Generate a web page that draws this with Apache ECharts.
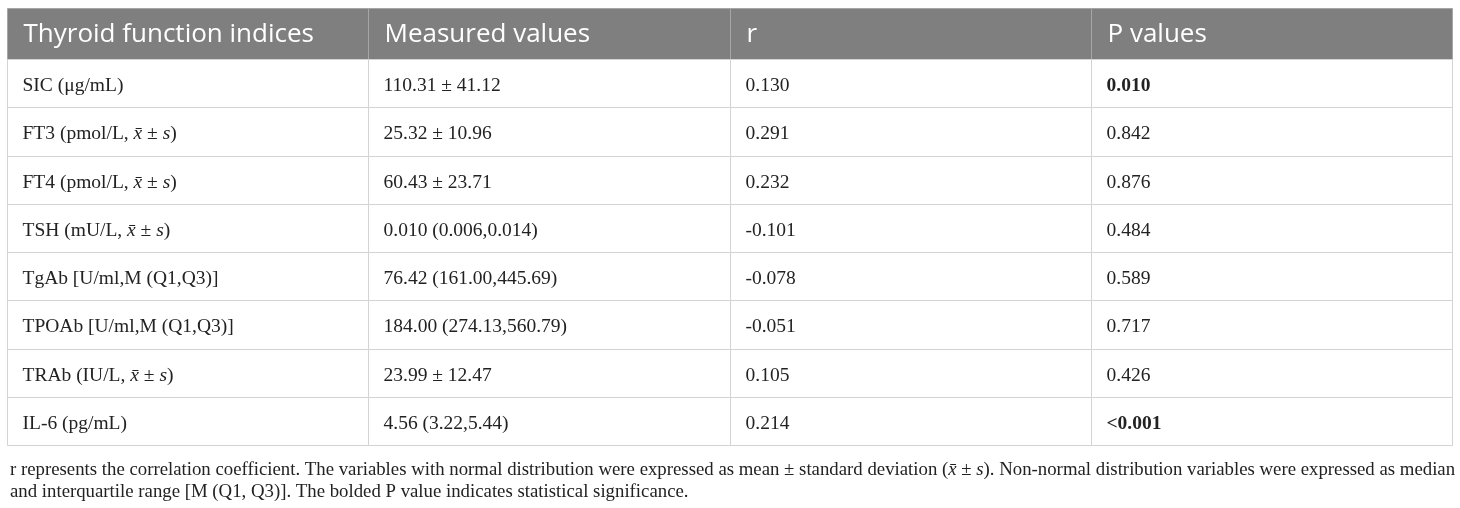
<!DOCTYPE html>
<html>
<head>
<meta charset="utf-8">
<script src="https://cdn.jsdelivr.net/npm/echarts@6/dist/echarts.min.js"></script>
<style>
html,body{margin:0;padding:0;background:#fff;}
#main_chart{width:1460px;height:508px;}
</style>
</head>
<body>
<div id="main_chart"></div>
<script>
// 表格数据
var headers = ['Thyroid function indices', 'Measured values', 'r', 'P values'];
var indices = [
    'SIC (μg/mL)',
    'FT3 (pmol/L, x̄ ± s)',
    'FT4 (pmol/L, x̄ ± s)',
    'TSH (mU/L, x̄ ± s)',
    'TgAb [U/ml,M (Q1,Q3)]',
    'TPOAb [U/ml,M (Q1,Q3)]',
    'TRAb (IU/L, x̄ ± s)',
    'IL-6 (pg/mL)'
];
var measured = [
    '110.31 ± 41.12',
    '25.32 ± 10.96',
    '60.43 ± 23.71',
    '0.010 (0.006,0.014)',
    '76.42 (161.00,445.69)',
    '184.00 (274.13,560.79)',
    '23.99 ± 12.47',
    '4.56 (3.22,5.44)'
];
var rValues = ['0.130', '0.291', '0.232', '-0.101', '-0.078', '-0.051', '0.105', '0.214'];
var pValues = ['0.010', '0.842', '0.876', '0.484', '0.589', '0.717', '0.426', '<0.001'];
var pBold = [true, false, false, false, false, false, false, true];
var footLines = [
    'r represents the correlation coefficient. The variables with normal distribution were expressed as mean ± standard deviation (x̄ ± s). Non-normal distribution variables were expressed as median',
    'and interquartile range [M (Q1, Q3)]. The bolded P value indicates statistical significance.'
];

var serif = '"Liberation Serif", "DejaVu Serif", serif';
var sans = '"Open Sans", "Noto Sans", sans-serif';
var HEAD_TOP = -1.06;

// x̄ ± s 变斜体，其余正常
function fmt(t){
    var parts = t.split('x̄ ± s');
    if (parts.length < 2) return '{n|' + t + '}';
    return '{n|' + parts[0] + '}{i|x̄}{n| ± }{i|s}{n|' + parts[1] + '}';
}

// 组装单元格
var cells = [];
for (var i = 0; i < indices.length; i++) {
    var row = [indices[i], measured[i], rValues[i], pValues[i]];
    for (var c = 0; c < 4; c++) {
        cells.push({value: [c, i], text: fmt(row[c]), bold: (c == 3 && pBold[i])});
    }
}
var headCells = [];
for (var h = 0; h < headers.length; h++) {
    headCells.push({value: [h, HEAD_TOP], text: headers[h]});
}

function richStyle(size, weight){
    return {
        n: {fontFamily: serif, fontSize: size, fontWeight: weight, color: '#222', fill: '#222'},
        i: {fontFamily: serif, fontSize: size, fontStyle: 'italic', fontWeight: weight, color: '#222', fill: '#222'}
    };
}

function renderBody(params, api){
    var cell = cells[params.dataIndex];
    var col = cell.value[0], r = cell.value[1];
    var p0 = api.coord([col, r]);
    var p1 = api.coord([col + 1, r + 1]);
    var x0 = Math.round(p0[0]) + 0.5, y0 = Math.round(p0[1]) + 0.5;
    var x1 = Math.round(p1[0]) + 0.5, y1 = Math.round(p1[1]) + 0.5;
    return {
        type: 'group',
        children: [
            {type: 'rect', shape: {x: x0, y: y0, width: x1 - x0, height: y1 - y0},
             style: {fill: '#fff', stroke: '#d3d3d3', lineWidth: 1}},
            {type: 'text', style: {
                x: x0 + 15, y: (y0 + y1) / 2 + 2,
                text: cell.text, rich: richStyle(19.5, cell.bold ? 'bold' : 'normal'),
                verticalAlign: 'middle', align: 'left',
                fontFamily: serif, fontSize: 19.5, fill: '#222'
            }}
        ]
    };
}

function renderHead(params, api){
    var cell = headCells[params.dataIndex];
    var col = cell.value[0];
    var p0 = api.coord([col, HEAD_TOP]);
    var p1 = api.coord([col + 1, 0]);
    var x0 = Math.round(p0[0]) + 0.5, y0 = Math.round(p0[1]) + 0.5;
    var x1 = Math.round(p1[0]) + 0.5, y1 = Math.round(p1[1]) + 0.5;
    return {
        type: 'group',
        children: [
            {type: 'rect', shape: {x: x0, y: y0, width: x1 - x0, height: y1 - y0},
             style: {fill: '#7f7f7f', stroke: '#a6a6a6', lineWidth: 1}},
            {type: 'text', style: {
                x: x0 + 16, y: (y0 + y1) / 2 + 1,
                text: cell.text, verticalAlign: 'middle', align: 'left',
                fontFamily: sans, fontSize: 26, fill: '#fff'
            }}
        ]
    };
}

var myChart = echarts.init(document.getElementById('main_chart'));
var option = {
    animation: false,
    backgroundColor: '#fff',
    grid: {left: 7, right: 8, top: 8, bottom: 63},
    xAxis: {type: 'value', min: 0, max: 4, show: false},
    yAxis: {type: 'value', min: HEAD_TOP, max: 8, inverse: true, show: false},
    title: [
        {text: fmt(footLines[0]), left: 5, top: 456,
         textStyle: {fontFamily: serif, fontSize: 18.8, fontWeight: 'normal', color: '#222',
            rich: richStyle(18.8, 'normal')}},
        {text: fmt(footLines[1]), left: 5, top: 478,
         textStyle: {fontFamily: serif, fontSize: 18.8, fontWeight: 'normal', color: '#222',
            rich: richStyle(18.8, 'normal')}}
    ],
    series: [
        {type: 'custom', renderItem: renderHead, data: headCells, coordinateSystem: 'cartesian2d', silent: true},
        {type: 'custom', renderItem: renderBody, data: cells, coordinateSystem: 'cartesian2d', silent: true}
    ]
};
myChart.setOption(option);
</script>
</body>
</html>
